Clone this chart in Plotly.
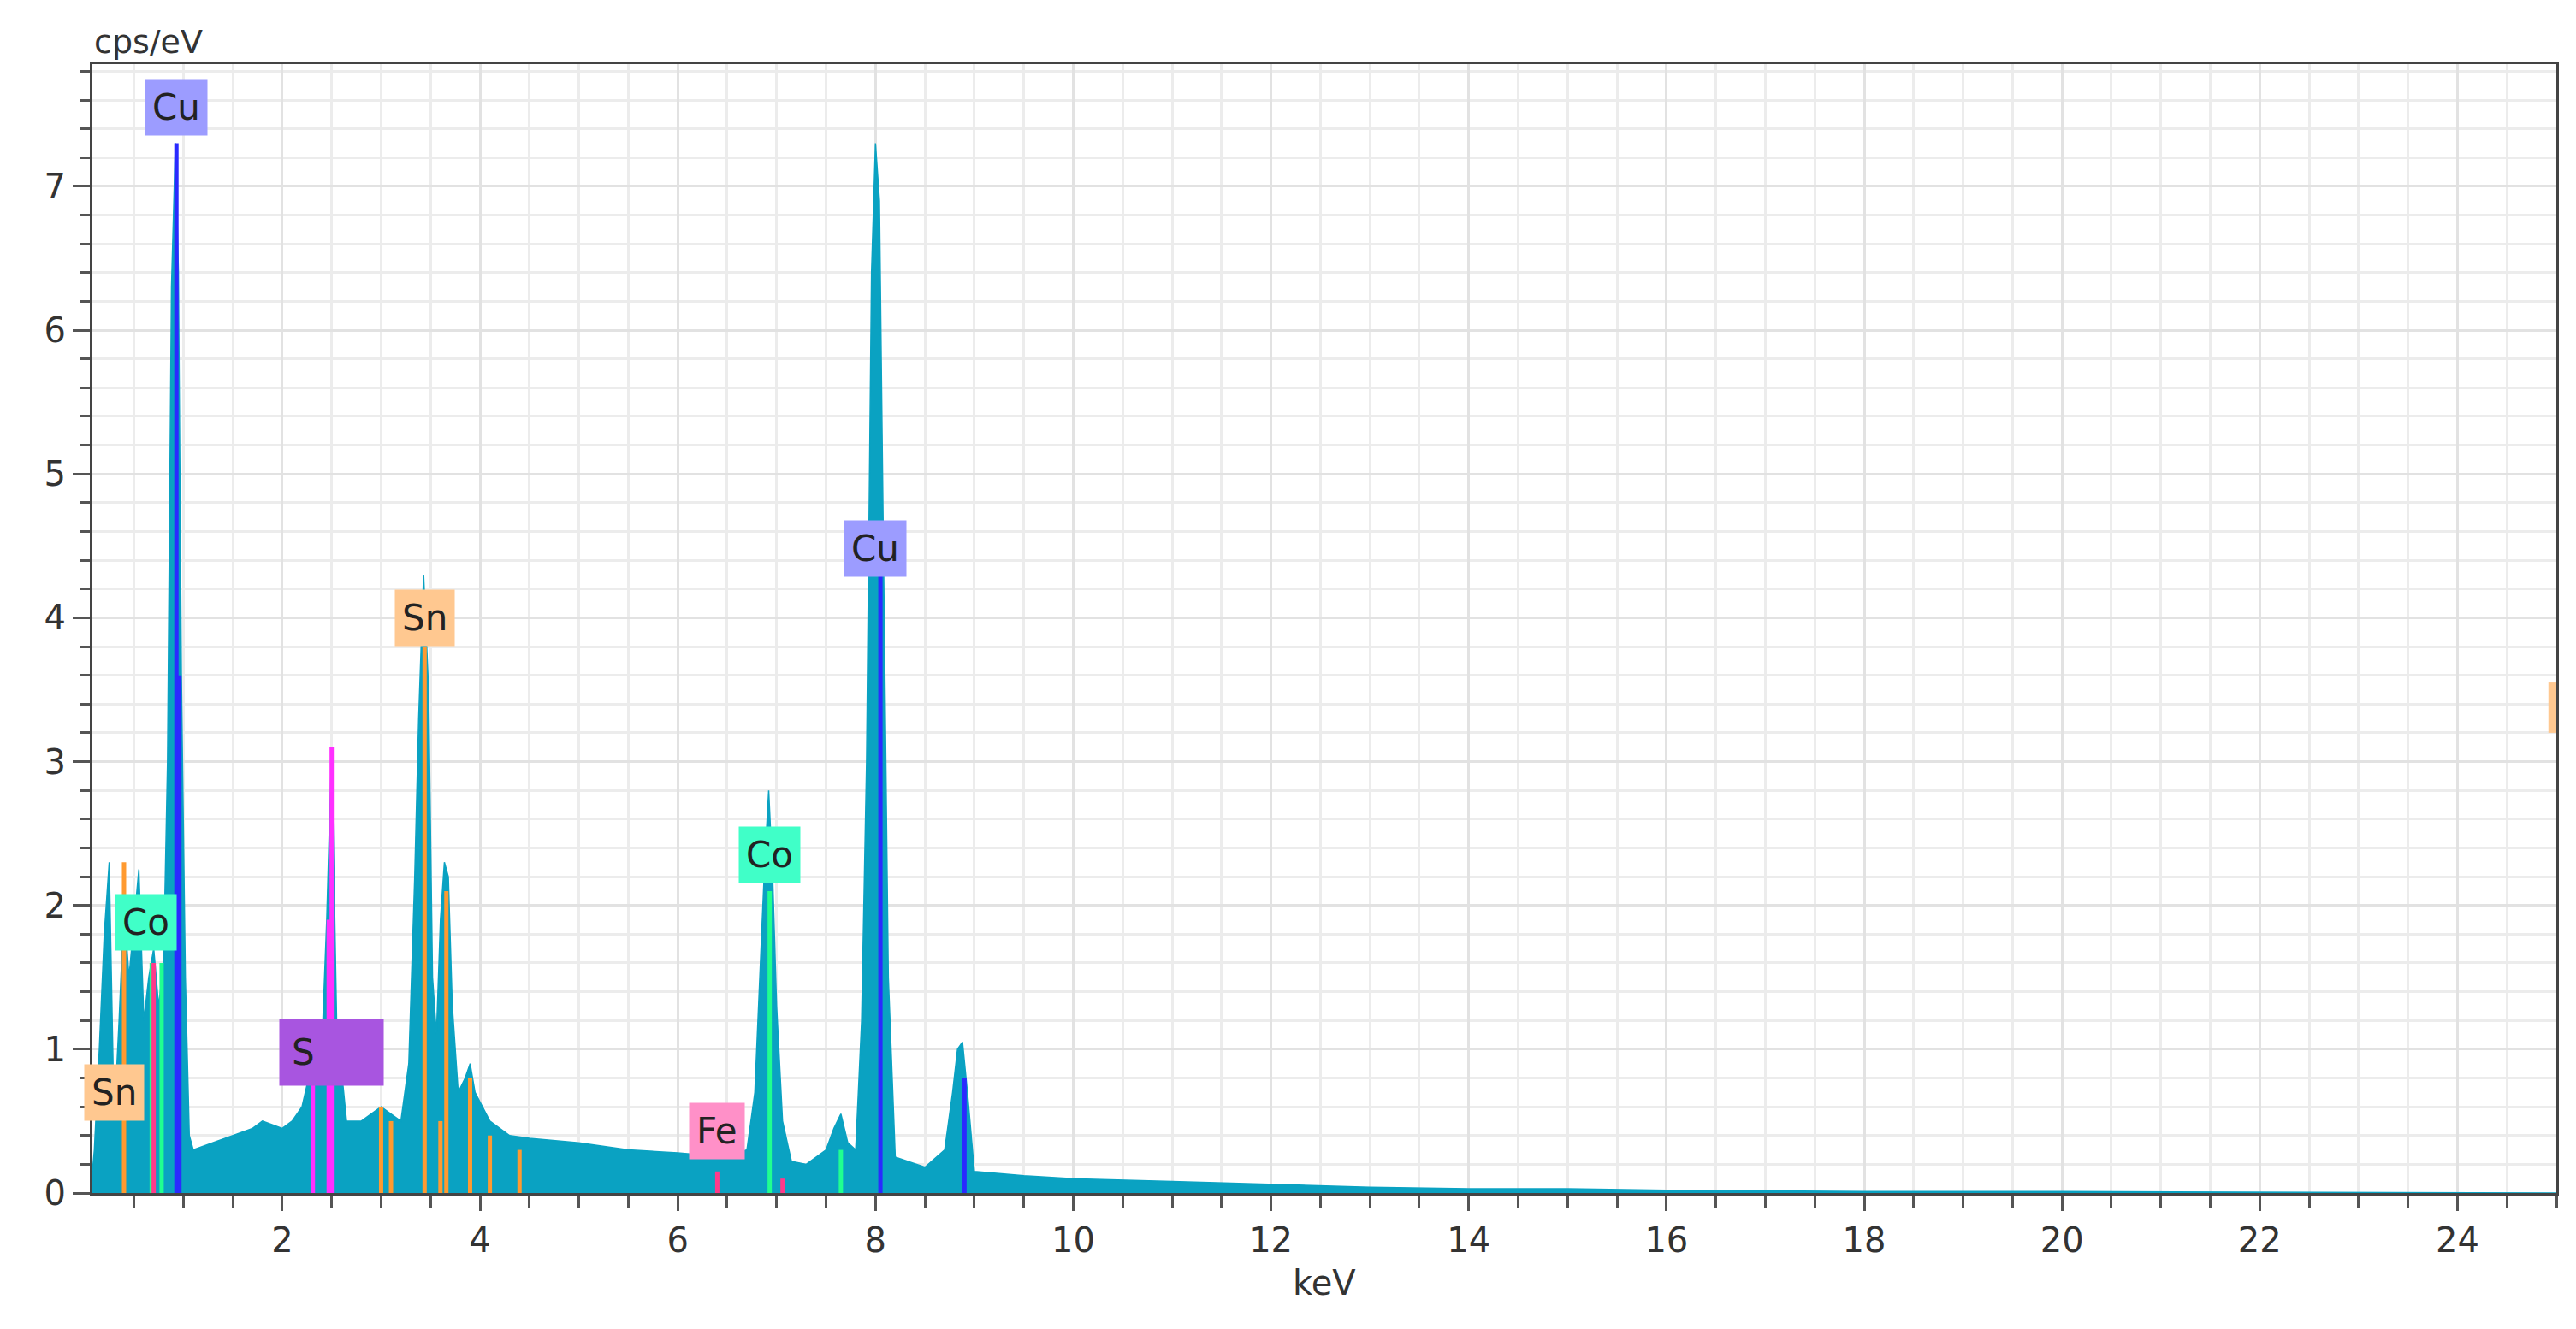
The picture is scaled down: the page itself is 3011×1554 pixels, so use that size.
import plotly.graph_objects as go

# EDS spectrum (keV, cps/eV)
energy = [0.08, 0.1, 0.15, 0.2, 0.25, 0.3, 0.35, 0.4, 0.45, 0.5, 0.55, 0.6, 0.65, 0.7, 0.75, 0.8, 0.84, 0.88,
          0.92, 0.95, 0.98, 1.02, 1.06, 1.1, 1.3, 1.5, 1.7, 1.8, 2.0, 2.1, 2.2, 2.3, 2.4, 2.45, 2.5, 2.55, 2.65,
          2.8, 3.0, 3.1, 3.2, 3.28, 3.34, 3.38, 3.43, 3.48, 3.52, 3.56, 3.6, 3.64, 3.68, 3.72, 3.78, 3.85, 3.9,
          3.95, 4.1, 4.3, 4.5, 5.0, 5.5, 6.0, 6.5, 6.7, 6.78, 6.83, 6.88, 6.92, 6.96, 7.0, 7.06, 7.15, 7.3, 7.5,
          7.58, 7.65, 7.72, 7.8, 7.86, 7.91, 7.96, 8.0, 8.04, 8.08, 8.13, 8.2, 8.5, 8.7, 8.78, 8.83, 8.88, 8.93,
          9.0, 9.5, 10, 11, 12, 13, 14, 15, 16, 18, 20, 25]
counts = [0.15, 0.3, 1.0, 1.8, 2.3, 0.5, 1.2, 2.0, 1.5, 1.9, 2.25, 1.2, 1.5, 1.7, 1.3, 1.6, 3.0, 6.3,
          7.3, 6.4, 3.6, 1.5, 0.4, 0.3, 0.35, 0.4, 0.45, 0.5, 0.45, 0.5, 0.6, 0.9, 1.0, 1.9, 3.1, 1.2, 0.5,
          0.5, 0.6, 0.55, 0.5, 0.9, 2.2, 3.3, 4.3, 3.5, 1.5, 1.1, 1.9, 2.3, 2.2, 1.3, 0.7, 0.8, 0.9,
          0.7, 0.5, 0.4, 0.38, 0.35, 0.3, 0.28, 0.25, 0.3, 0.7, 1.5, 2.3, 2.8, 2.2, 1.3, 0.5, 0.22, 0.2, 0.3,
          0.45, 0.55, 0.35, 0.3, 1.2, 3.0, 6.4, 7.3, 6.9, 4.5, 1.5, 0.25, 0.18, 0.3, 0.7, 1.0, 1.05, 0.7,
          0.15, 0.12, 0.1, 0.08, 0.06, 0.04, 0.03, 0.03, 0.02, 0.01, 0.01, 0.0]

# element marker lines: (element, keV, height)
line_elem = ["Cu", "Cu", "Cu", "Cu", "Sn", "Sn", "Sn", "Sn", "Sn", "Sn", "Sn", "Sn", "Sn",
             "S", "S", "S", "Co", "Co", "Co", "Co", "Fe", "Fe", "Fe"]
line_kev = [0.93, 0.96, 8.05, 8.9, 3.44, 3.66, 3.9, 3.0, 3.1, 3.6, 4.1, 4.4, 0.4,
            2.31, 2.5, 2.47, 6.93, 7.65, 0.78, 0.68, 6.4, 7.06, 0.7]
line_val = [7.3, 3.6, 4.3, 0.8, 3.8, 2.1, 0.8, 0.6, 0.5, 0.5, 0.4, 0.3, 2.3,
            0.8, 3.1, 1.9, 2.1, 0.3, 1.6, 1.6, 0.15, 0.1, 1.6]
elem_color = {"Cu": "#2a2aff", "Sn": "#ff9a30", "S": "#ff30ff", "Co": "#20ff90", "Fe": "#ff3a8a"}

# peak labels
lab_text = ["Cu", "Cu", "Sn", "Sn", "Co", "Co", "S", "Fe"]
lab_x = [0.93, 8.0, 3.44, 0.3, 0.62, 6.93, 2.5, 6.4]
lab_y = [7.55, 4.48, 4.0, 0.7, 1.88, 2.35, 0.98, 0.43]
lab_bg = {"Cu": "#9c9cff", "Sn": "#ffc890", "Co": "#40ffc8", "S": "#a855e0", "Fe": "#ff90c8"}

fig = go.Figure()
fig.add_trace(go.Scatter(x=energy, y=counts, mode="lines", fill="tozeroy",
                         line={"color": "#0aa2c2", "width": 1.5}, fillcolor="#0aa2c2",
                         hoverinfo="skip"))
for el in elem_color:
    xs, ys = [], []
    for e, k, v in zip(line_elem, line_kev, line_val):
        if e == el:
            xs += [k, k, None]
            ys += [0, v, None]
    fig.add_trace(go.Scatter(x=xs, y=ys, mode="lines", line={"color": elem_color[el], "width": 5},
                             hoverinfo="skip"))

for t, x, y in zip(lab_text, lab_x, lab_y):
    big = t == "S"
    fig.add_annotation(x=x, y=y, text=t if not big else "S&nbsp;&nbsp;&nbsp;&nbsp;&nbsp;",
                       showarrow=False, bgcolor=lab_bg[t], borderpad=14 if big else 8,
                       font={"size": 42, "color": "#222"})

fig.add_annotation(x=0, y=1.0, xref="paper", yref="paper", xanchor="left", yanchor="bottom",
                   text="cps/eV", showarrow=False, font={"size": 38, "color": "#333"}, yshift=2)
fig.add_annotation(x=0.5, y=0, xref="paper", yref="paper", yanchor="top", yshift=-80,
                   text="keV", showarrow=False, font={"size": 40, "color": "#333"})
fig.add_shape(type="rect", x0=24.92, x1=25.0, y0=3.2, y1=3.55, fillcolor="#ffc890", line={"width": 0})

fig.update_layout(
    width=3011, height=1554, showlegend=False,
    margin={"l": 100, "r": 31, "t": 67, "b": 167},
    paper_bgcolor="white", plot_bgcolor="white",
    font={"family": "DejaVu Sans, Verdana, sans-serif", "size": 40, "color": "#333"},
)
fig.update_xaxes(range=[0.08, 25], dtick=2, tick0=0, ticks="outside", ticklen=18, tickwidth=3,
                 tickcolor="#555", showgrid=True, gridcolor="#e2e2e2", gridwidth=3,
                 minor={"dtick": 0.5, "showgrid": True, "gridcolor": "#ececec", "gridwidth": 3,
                        "ticks": "outside", "ticklen": 14, "tickcolor": "#555"},
                 showline=True, linecolor="#444", linewidth=3, mirror=True, zeroline=False)
fig.update_yaxes(range=[0, 7.85], dtick=1, ticks="outside", ticklen=20, tickwidth=3,
                 tickcolor="#555", showgrid=True, gridcolor="#e2e2e2", gridwidth=3,
                 minor={"dtick": 0.2, "showgrid": True, "gridcolor": "#ececec", "gridwidth": 3,
                        "ticks": "outside", "ticklen": 12, "tickcolor": "#555"},
                 showline=True, linecolor="#444", linewidth=3, mirror=True, zeroline=False)

fig.write_html("out.html")
